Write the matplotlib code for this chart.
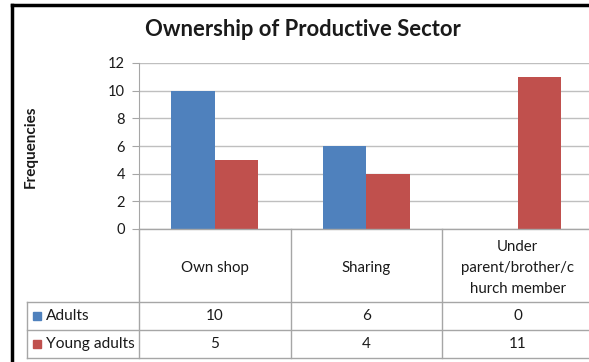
import numpy as np
import matplotlib.pyplot as plt
from matplotlib.lines import Line2D
from matplotlib.patches import Rectangle

plt.rcParams['font.family'] = ['Lato', 'DejaVu Sans']

categories = ["Own shop", "Sharing", "Under\nparent/brother/c\nhurch member"]
series_names = ["Adults", "Young adults"]
adults = [10, 6, 0]
young_adults = [5, 4, 11]
yticks = [0, 2, 4, 6, 8, 10, 12]

colors = ["#4F81BD", "#C0504D"]
grid_c = "#BFBFBF"
line_c = "#A6A6A6"
text_c = "#1A1A1A"

W, H = 589, 362
fig = plt.figure(figsize=(W / 100, H / 100), dpi=100)
fig.patch.set_facecolor("white")

# layout in pixels (from top-left)
plot_l, plot_t, plot_b = 139, 63, 229
tab_b, row1, row2 = 358, 302, 330
col_w = 151.5
hdr_l = 27

def fx(px):
    return px / W

def fy(py):
    return 1 - py / H

xmax = -0.5 + (W - plot_l) / col_w

ax = fig.add_axes([fx(plot_l), fy(plot_b), 1 - fx(plot_l), fy(plot_t) - fy(plot_b)])
x = np.arange(len(categories))
bw = 1 / 3.5
ax.bar(x - bw / 2, adults, bw, color=colors[0], zorder=3)
ax.bar(x + bw / 2, young_adults, bw, color=colors[1], zorder=3)
ax.set_xlim(-0.5, xmax)
ax.set_ylim(0, 12)
ax.set_yticks(yticks)
ax.set_xticks([])
ax.yaxis.grid(True, color=grid_c, lw=1)
ax.set_axisbelow(True)
for s in ["top", "right", "bottom"]:
    ax.spines[s].set_visible(False)
ax.spines["left"].set_color(line_c)
ax.tick_params(axis="y", length=5, color=line_c, labelsize=10.5, labelcolor=text_c, pad=5)

fig.text(fx(31), fy(147), "Frequencies", rotation=90, ha="center", va="center",
         fontsize=11, fontweight="bold", color=text_c)
fig.text(fx(303), fy(36), "Ownership of Productive Sector", ha="center", va="baseline",
         fontsize=15.8, fontweight="bold", color=text_c)

# data table below the plot
tax = fig.add_axes([fx(plot_l), fy(tab_b), 1 - fx(plot_l), fy(plot_b) - fy(tab_b)], sharex=ax)
tax.set_ylim(tab_b, plot_b)
tax.axis("off")

def xd(px):
    return -0.5 + (px - plot_l) / col_w

x_hdr = xd(hdr_l)
kw = dict(color=line_c, lw=1, clip_on=False)
tax.plot([-0.5, xmax], [plot_b, plot_b], **kw)
for yy in (row1, row2, tab_b):
    tax.plot([x_hdr, xmax], [yy, yy], **kw)
tax.plot([x_hdr, x_hdr], [row1, tab_b], **kw)
tax.plot([-0.5, -0.5], [plot_b, tab_b], **kw)
for i in range(len(categories) - 1):
    tax.plot([i + 0.5, i + 0.5], [plot_b, tab_b], **kw)

for i, cat in enumerate(categories):
    tax.text(i, 268, cat, ha="center", va="center", fontsize=10.8,
             color=text_c, linespacing=1.65)

for r, (name, vals, c) in enumerate(zip(series_names, [adults, young_adults], colors)):
    yc = (row1 + row2) / 2 if r == 0 else (row2 + tab_b) / 2
    tax.add_patch(Rectangle((xd(33), yc - 4), 8 / col_w, 8, color=c, clip_on=False))
    tax.text(xd(46), yc, name, ha="left", va="center", fontsize=11.2, color=text_c)
    for i, v in enumerate(vals):
        tax.text(i, yc, str(v), ha="center", va="center", fontsize=11, color=text_c)

# outer frame (left and top edges)
fig.add_artist(Line2D([fx(12), fx(12)], [fy(5), 0], color="black", lw=2.5))
fig.add_artist(Line2D([fx(12), 1], [fy(5), fy(5)], color="black", lw=2.5))

fig.savefig("out.png", dpi=100)
